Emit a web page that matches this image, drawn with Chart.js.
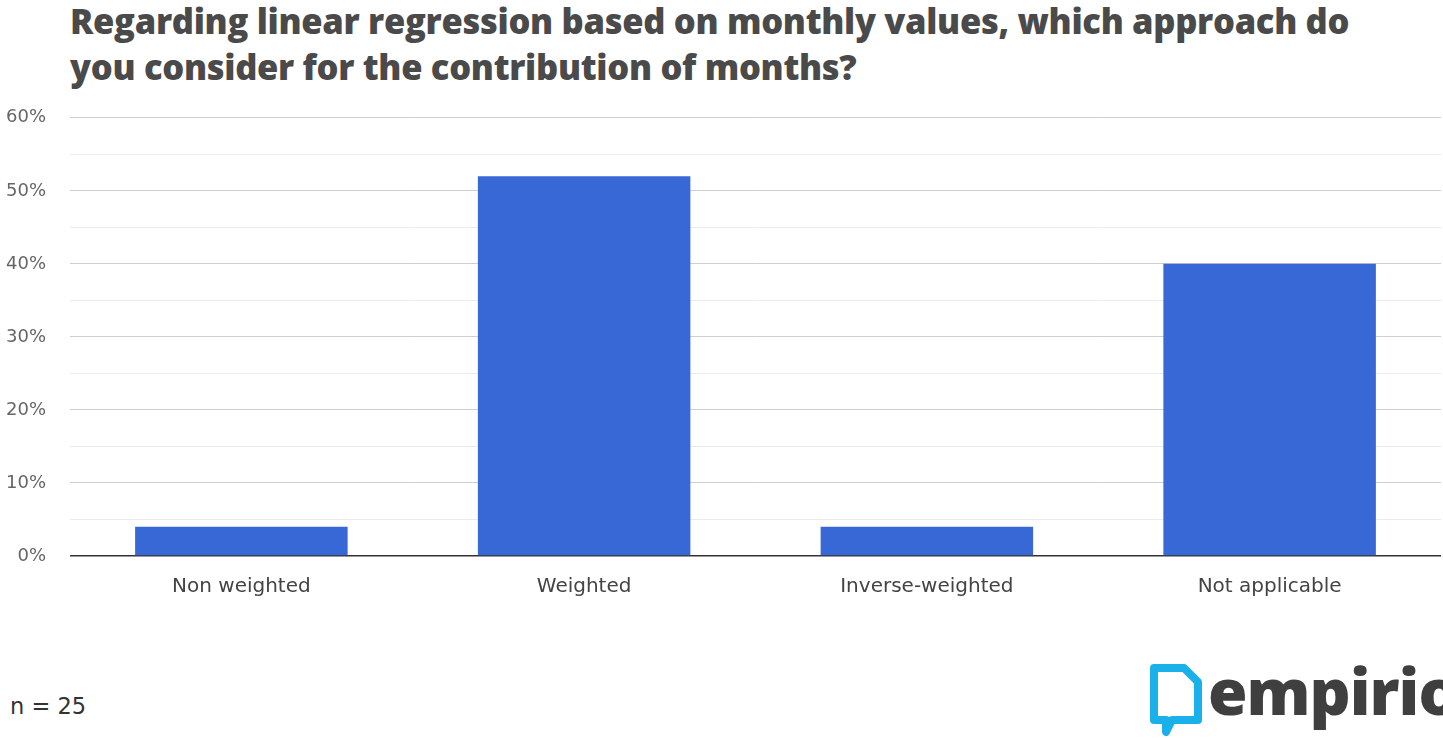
<!DOCTYPE html>
<html>
<head>
<meta charset="utf-8">
<script src="https://cdn.jsdelivr.net/npm/chart.js@4"></script>
<style>
  body { margin: 0; background: #fff; width: 1443px; height: 738px; overflow: hidden; position: relative; font-family: "DejaVu Sans", sans-serif; }
  #title { position: absolute; left: 70px; top: -2px; font-family: "Open Sans", sans-serif; font-weight: 800; font-size: 34.5px; line-height: 46px; color: #4a4a4a; letter-spacing: -0.3px; }
  #wrap { position: absolute; left: 0; top: 83px; width: 1443px; height: 527px; }
  #note { position: absolute; left: 10px; top: 693px; font-family: "DejaVu Sans", sans-serif; font-size: 22.5px; color: #333; }
  #logo { position: absolute; left: 1148px; top: 660px; height: 78px; white-space: nowrap; }
  #logo svg { position: absolute; left: 0; top: 2px; }
  #logo .txt { position: absolute; left: 60px; top: -13px; font-family: "Open Sans", sans-serif; font-weight: 800; font-size: 64px; color: #3f3f3f; letter-spacing: -1px; }
</style>
</head>
<body>
<div id="title">Regarding linear regression based on monthly values, which approach do<br>you consider for the contribution of months?</div>
<div id="wrap"><canvas id="Chart1"></canvas></div>
<div id="note">n = 25</div>
<div id="logo">
  <svg width="56" height="76" viewBox="0 0 56 76">
    <path d="M6 6 H36 L50 20 V58 H24 L18 70 V58 H6 Z" fill="none" stroke="#1ab0ea" stroke-width="8" stroke-linejoin="round"/>
  </svg>
  <div class="txt">empirio</div>
</div>
<script>
// chart data
const categories = ['Non weighted', 'Weighted', 'Inverse-weighted', 'Not applicable'];
const shares = [4, 52, 4, 40];
const yTicks = [0, 10, 20, 30, 40, 50, 60];

function drawChart() {
  const ctx = document.getElementById('Chart1');
  const chartdata = {
    labels: categories,
    datasets: [{
      label: 'Share',
      data: shares,
      backgroundColor: '#3867d6',
      barPercentage: 0.62,
      categoryPercentage: 1
    }]
  };

  const config = {
    type: 'bar',
    data: chartdata,
    options: {
      responsive: true,
      maintainAspectRatio: false,
      animation: false,
      layout: { padding: { left: 3, right: 2, top: 0, bottom: 0 } },
      plugins: { legend: { display: false }, tooltip: { enabled: false } },
      scales: {
        x: {
          grid: { display: false },
          border: { display: false },
          ticks: { color: '#444', font: { family: 'DejaVu Sans', size: 20 }, padding: 11 }
        },
        y: {
          min: 0,
          max: 60,
          afterFit: scale => { scale.width = 67; },
          afterBuildTicks: scale => {
            scale.ticks = [];
            for (let v = 0; v <= 60; v += 5) scale.ticks.push({ value: v });
          },
          border: { display: false },
          grid: {
            drawTicks: false,
            lineWidth: c => c.tick.value === 0 ? 1.5 : 1,
            color: c => c.tick.value === 0 ? '#333' : (yTicks.includes(c.tick.value) ? '#cfcfcf' : '#ebebeb')
          },
          ticks: {
            color: '#666',
            font: { family: 'DejaVu Sans', size: 18 },
            padding: 24,
            callback: v => yTicks.includes(v) ? v + '%' : ''
          }
        }
      }
    }
  };

  const myChart = new Chart(ctx, config);
}

document.addEventListener('DOMContentLoaded', drawChart);
</script>
</body>
</html>
